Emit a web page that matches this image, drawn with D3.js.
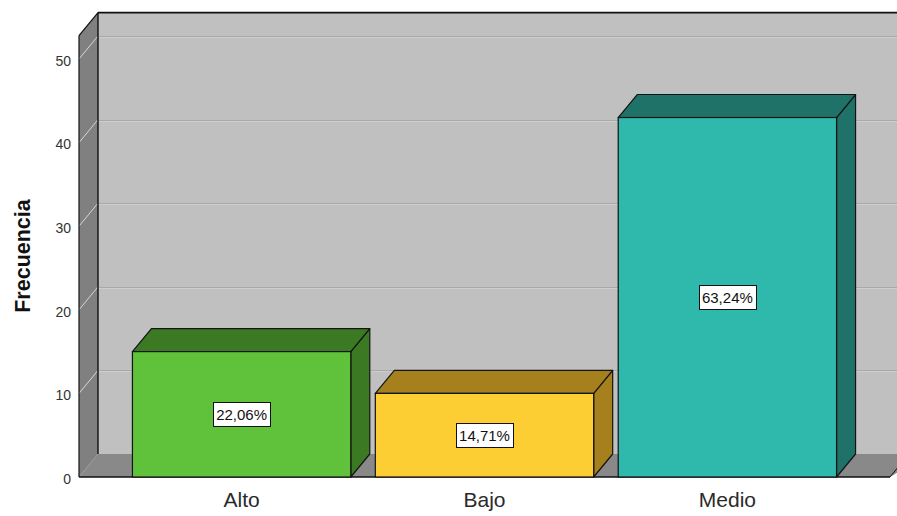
<!DOCTYPE html>
<html>
<head>
<meta charset="utf-8">
<script src="https://cdn.jsdelivr.net/npm/d3@7"></script>
<style>
  html, body { margin: 0; padding: 0; background: #ffffff; }
  svg { display: block; font-family: "Liberation Sans", Arial, sans-serif; }
</style>
</head>
<body>
<svg id="chart" width="897" height="516"></svg>
<script>
// Frequency by level
const categories = ["Alto", "Bajo", "Medio"];
const counts = [15, 10, 43];
const percentLabels = ["22,06%", "14,71%", "63,24%"];
const yTicks = [0, 10, 20, 30, 40, 50];
const frontColors = ["#60c23b", "#fdcd34", "#2fb9ac"];
const shadeColors = ["#3b7a23", "#a5801d", "#1f7268"];

const svg = d3.select("#chart");

// Front plane geometry and 3D depth offset
const left = 79, right = 890, baseY = 477;
const dx = 19, dy = -23;
const yMax = 52.8;

const y = d3.scaleLinear().domain([0, 50]).range([baseY, 59]);
const x = d3.scaleBand().domain(categories).range([left, right])
  .paddingInner(0.101).paddingOuter(0.22);

const topFront = y(yMax);
const backLeft = left + dx, backRight = right + dx + 20;

// Back wall
svg.append("rect")
  .attr("x", backLeft).attr("y", topFront + dy)
  .attr("width", backRight - backLeft).attr("height", (baseY + dy) - (topFront + dy))
  .attr("fill", "#c0c0c0");

// Grid lines on the back wall
const grid = svg.append("g");
yTicks.filter(v => v > 0).forEach(v => {
  const gy = Math.round(y(v) + dy) + 0.5;
  grid.append("line").attr("x1", backLeft).attr("x2", backRight)
    .attr("y1", gy).attr("y2", gy).attr("stroke", "#a9a9a9").attr("stroke-width", 1);
  grid.append("line").attr("x1", backLeft).attr("x2", backRight)
    .attr("y1", gy + 1).attr("y2", gy + 1).attr("stroke", "#cdcdcd").attr("stroke-width", 1);
});

// Left wall
svg.append("polygon")
  .attr("points", [[left, topFront], [backLeft, topFront + dy], [backLeft, baseY + dy], [left, baseY]].join(" "))
  .attr("fill", "#808080");

// Diagonal grid lines on the left wall
yTicks.filter(v => v > 0).forEach(v => {
  svg.append("line")
    .attr("x1", left).attr("y1", y(v))
    .attr("x2", backLeft).attr("y2", y(v) + dy)
    .attr("stroke", "#d6d6d6").attr("stroke-width", 1);
});

// Floor
svg.append("polygon")
  .attr("points", [[left, baseY], [backLeft, baseY + dy], [backRight, baseY + dy], [right, baseY]].join(" "))
  .attr("fill", "#898989");

// Frame outlines
svg.append("line").attr("x1", backLeft).attr("x2", backRight)
  .attr("y1", topFront + dy).attr("y2", topFront + dy)
  .attr("stroke", "#111").attr("stroke-width", 1.6);
svg.append("line").attr("x1", backLeft).attr("x2", backLeft)
  .attr("y1", topFront + dy).attr("y2", baseY + dy)
  .attr("stroke", "#111").attr("stroke-width", 1.4);
svg.append("line").attr("x1", left).attr("x2", backLeft)
  .attr("y1", topFront).attr("y2", topFront + dy)
  .attr("stroke", "#111").attr("stroke-width", 1.2);
svg.append("line").attr("x1", left).attr("x2", left)
  .attr("y1", topFront).attr("y2", baseY)
  .attr("stroke", "#111").attr("stroke-width", 1.2);
svg.append("line").attr("x1", left).attr("x2", right)
  .attr("y1", baseY).attr("y2", baseY)
  .attr("stroke", "#111").attr("stroke-width", 1.4);
svg.append("line").attr("x1", right).attr("x2", right + dx)
  .attr("y1", baseY).attr("y2", baseY + dy)
  .attr("stroke", "#111").attr("stroke-width", 1);

// Bars
const bw = x.bandwidth();
const bars = svg.append("g").selectAll("g").data(categories).join("g");
bars.each(function(c, i) {
  const g = d3.select(this);
  const x0 = x(c), yv = y(counts[i]), y0 = y(0);
  g.append("polygon")
    .attr("points", [[x0 + bw, yv], [x0 + bw + dx, yv + dy], [x0 + bw + dx, y0 + dy], [x0 + bw, y0]].join(" "))
    .attr("fill", shadeColors[i]).attr("stroke", "#141414").attr("stroke-width", 1.2)
    .attr("stroke-linejoin", "round");
  g.append("polygon")
    .attr("points", [[x0, yv], [x0 + dx, yv + dy], [x0 + bw + dx, yv + dy], [x0 + bw, yv]].join(" "))
    .attr("fill", shadeColors[i]).attr("stroke", "#141414").attr("stroke-width", 1.2)
    .attr("stroke-linejoin", "round");
  g.append("rect")
    .attr("x", x0).attr("y", yv).attr("width", bw).attr("height", y0 - yv)
    .attr("fill", frontColors[i]).attr("stroke", "#141414").attr("stroke-width", 1.2);
});

// Percentage labels
bars.each(function(c, i) {
  const g = d3.select(this);
  const cx = x(c) + bw / 2;
  const cy = (y(counts[i]) + y(0)) / 2;
  const t = g.append("text")
    .attr("x", cx).attr("y", cy)
    .attr("text-anchor", "middle").attr("dominant-baseline", "central")
    .attr("font-size", 15).attr("fill", "#111")
    .text(percentLabels[i]);
  const bb = t.node().getBBox();
  g.insert("rect", "text")
    .attr("x", Math.round(bb.x - 3) + 0.5).attr("y", Math.round(cy - 12) + 0.5)
    .attr("width", Math.round(bb.width + 6)).attr("height", 24)
    .attr("fill", "#ffffff").attr("stroke", "#111").attr("stroke-width", 1);
});

// Y axis tick labels
const yAxis = d3.axisLeft(y).tickValues(yTicks).tickSize(0).tickPadding(8).tickFormat(d3.format("d"));
const ya = svg.append("g").attr("transform", `translate(${left},0)`).call(yAxis);
ya.select(".domain").remove();
ya.selectAll("text").attr("font-size", 14).attr("fill", "#333")
  .attr("font-family", "'Liberation Sans', Arial, sans-serif").attr("dy", "0.45em");

// X axis category labels
const xAxis = d3.axisBottom(x).tickSize(0).tickPadding(15);
const xa = svg.append("g").attr("transform", `translate(0,${baseY})`).call(xAxis);
xa.select(".domain").remove();
xa.selectAll("text").attr("font-size", 21).attr("fill", "#2a2a2a")
  .attr("font-family", "'Liberation Sans', Arial, sans-serif");

// Y axis title
svg.append("text")
  .attr("transform", `translate(30,${256}) rotate(-90)`)
  .attr("text-anchor", "middle")
  .attr("font-size", 21.5).attr("font-weight", "bold").attr("fill", "#111")
  .text("Frecuencia");
</script>
</body>
</html>
